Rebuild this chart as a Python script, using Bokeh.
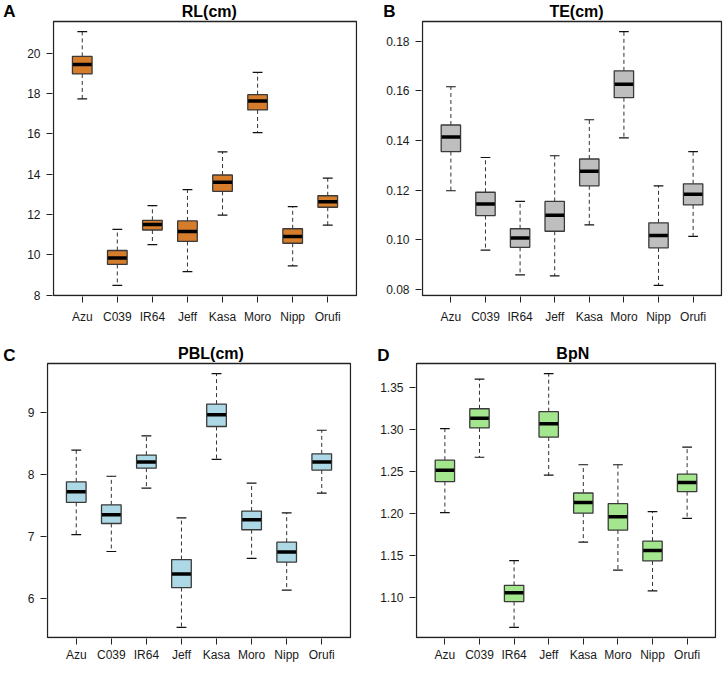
from bokeh.plotting import figure
from bokeh.layouts import row, column
from bokeh.models import FixedTicker, Range1d, LinearAxis
from bokeh.core.properties import value
from bokeh.embed import file_html
from bokeh.resources import INLINE

genotypes = ["Azu", "C039", "IR64", "Jeff", "Kasa", "Moro", "Nipp", "Orufi"]

# Panel A: RL(cm)
rl_lower = [17.74, 8.48, 10.50, 9.16, 11.97, 16.07, 9.45, 11.47]
rl_q1 = [18.98, 9.52, 11.23, 10.66, 13.15, 17.19, 10.57, 12.36]
rl_med = [19.45, 9.84, 11.50, 11.15, 13.60, 17.63, 10.91, 12.63]
rl_q3 = [19.85, 10.21, 11.71, 11.68, 13.96, 17.95, 11.29, 12.93]
rl_upper = [21.08, 11.26, 12.44, 13.23, 15.11, 19.06, 12.39, 13.81]
rl_ticks = [8, 10, 12, 14, 16, 18, 20]
rl_tick_labels = ["8", "10", "12", "14", "16", "18", "20"]

# Panel B: TE(cm)
te_lower = [0.1198, 0.0959, 0.0859, 0.0855, 0.1061, 0.1411, 0.0817, 0.1014]
te_q1 = [0.1356, 0.1098, 0.0970, 0.1035, 0.1218, 0.1573, 0.0968, 0.1141]
te_med = [0.1415, 0.1145, 0.1008, 0.1099, 0.1277, 0.1627, 0.1018, 0.1184]
te_q3 = [0.1463, 0.1192, 0.1045, 0.1155, 0.1326, 0.1681, 0.1069, 0.1226]
te_upper = [0.1617, 0.1332, 0.1155, 0.1339, 0.1484, 0.1839, 0.1218, 0.1356]
te_ticks = [0.08, 0.10, 0.12, 0.14, 0.16, 0.18]
te_tick_labels = ["0.08", "0.10", "0.12", "0.14", "0.16", "0.18"]

# Panel C: PBL(cm)
pbl_lower = [7.03, 6.76, 7.78, 5.54, 8.24, 6.65, 6.14, 7.70]
pbl_q1 = [7.55, 7.21, 8.10, 6.18, 8.77, 7.11, 6.59, 8.07]
pbl_med = [7.72, 7.35, 8.20, 6.40, 8.96, 7.27, 6.75, 8.20]
pbl_q3 = [7.88, 7.51, 8.31, 6.63, 9.13, 7.41, 6.91, 8.33]
pbl_upper = [8.39, 7.97, 8.62, 7.30, 9.62, 7.86, 7.38, 8.71]
pbl_ticks = [6, 7, 8, 9]
pbl_tick_labels = ["6", "7", "8", "9"]

# Panel D: BpN
bpn_lower = [1.2012, 1.2669, 1.0648, 1.2457, 1.1661, 1.1328, 1.1081, 1.1943]
bpn_q1 = [1.2380, 1.3017, 1.0954, 1.2909, 1.2005, 1.1804, 1.1437, 1.2260]
bpn_med = [1.2515, 1.3133, 1.1058, 1.3067, 1.2132, 1.1962, 1.1560, 1.2368]
bpn_q3 = [1.2634, 1.3245, 1.1147, 1.3210, 1.2244, 1.2117, 1.1672, 1.2468]
bpn_upper = [1.3010, 1.3597, 1.1440, 1.3662, 1.2580, 1.2580, 1.2024, 1.2789]
bpn_ticks = [1.10, 1.15, 1.20, 1.25, 1.30, 1.35]
bpn_tick_labels = ["1.10", "1.15", "1.20", "1.25", "1.30", "1.35"]

FONT = "Liberation Sans"
BOX_W = 0.56
CAP_W = 0.28


def make_panel(title, letter, lower, q1, med, q3, upper, fill, ticks, tick_labels,
               box_w, box_h, top_px, b_left, b_right, b_bottom, x_standoff,
               title_dx, title_up, letter_up, letter_standoff):
    n = len(genotypes)
    xs = [i + 1 for i in range(n)]
    lo, hi = min(lower), max(upper)
    pad = 0.04 * (hi - lo)
    bx0, bx1 = 0.5 - 0.04 * n, n + 0.5 + 0.04 * n
    by0, by1 = lo - pad, hi + pad
    sx = (bx1 - bx0) / box_w
    sy = (by1 - by0) / box_h
    p = figure(frame_width=box_w + 2, frame_height=box_h + top_px + 1,
               x_range=Range1d(bx0 - sx, bx1 + sx),
               y_range=Range1d(by0 - sy, by1 + top_px * sy),
               output_backend="svg", toolbar_location=None,
               min_border_left=b_left, min_border_right=b_right,
               min_border_top=0, min_border_bottom=b_bottom,
               background_fill_color="white", border_fill_color="white")
    p.grid.visible = False
    p.outline_line_color = None

    # plot box
    p.quad(left=[bx0], right=[bx1], bottom=[by0], top=[by1], fill_color=None,
           line_color="#222222", line_width=1.3)

    # whiskers (dashed)
    p.segment(x0=xs, y0=q3, x1=xs, y1=upper, line_color="#333333",
              line_width=1, line_dash="4 3")
    p.segment(x0=xs, y0=q1, x1=xs, y1=lower, line_color="#333333",
              line_width=1, line_dash="4 3")
    # caps
    p.segment(x0=[x - CAP_W / 2 for x in xs], y0=upper,
              x1=[x + CAP_W / 2 for x in xs], y1=upper,
              line_color="#111111", line_width=1.2)
    p.segment(x0=[x - CAP_W / 2 for x in xs], y0=lower,
              x1=[x + CAP_W / 2 for x in xs], y1=lower,
              line_color="#111111", line_width=1.2)
    # boxes
    p.vbar(x=xs, width=BOX_W, bottom=q1, top=q3, fill_color=fill,
           line_color="#3a3a3a", line_width=1.3)
    # medians
    p.segment(x0=[x - BOX_W / 2 + 0.01 for x in xs], y0=med,
              x1=[x + BOX_W / 2 - 0.01 for x in xs], y1=med,
              line_color="black", line_width=3.5)

    # title
    p.text(x=[(bx0 + bx1) / 2 + title_dx * sx], y=[by1 + title_up * sy], text=[title],
           text_font=value(FONT), text_font_style="bold", text_font_size="16px",
           text_align="center", text_baseline="middle", text_color="black")

    for ax in (p.xaxis, p.yaxis):
        ax.axis_line_color = None
        ax.major_tick_out = 6
        ax.major_tick_in = 0
        ax.minor_tick_line_color = None
        ax.major_tick_line_color = "#222222"
        ax.major_label_text_font = FONT
        ax.major_label_text_font_size = "12px"
        ax.major_label_text_color = "#1a1a1a"

    p.xaxis.ticker = FixedTicker(ticks=xs)
    p.xaxis.major_label_overrides = {x: g for x, g in zip(xs, genotypes)}
    p.xaxis.major_label_standoff = x_standoff
    p.yaxis.ticker = FixedTicker(ticks=ticks)
    p.yaxis.major_label_overrides = {t: s for t, s in zip(ticks, tick_labels)}
    p.yaxis.major_label_standoff = 6

    # panel letter as an outer left axis label
    y_letter = round(by1 + letter_up * sy, 6)
    lax = LinearAxis(ticker=FixedTicker(ticks=[y_letter]),
                     major_label_overrides={y_letter: letter},
                     axis_line_color=None, major_tick_line_color=None,
                     minor_tick_line_color=None, major_tick_out=0, major_tick_in=0,
                     major_label_standoff=letter_standoff,
                     major_label_text_font=FONT, major_label_text_font_style="bold",
                     major_label_text_font_size="17px",
                     major_label_text_color="black")
    p.add_layout(lax, "left")
    return p


BOX_H = 274
pA = make_panel("RL(cm)", "A", rl_lower, rl_q1, rl_med, rl_q3, rl_upper, "#D67D2C",
                rl_ticks, rl_tick_labels, 303, BOX_H, 21, 45, 12, 43, 7,
                4.3, 10, 10, 9)
pB = make_panel("TE(cm)", "B", te_lower, te_q1, te_med, te_q3, te_upper, "#BEBEBE",
                te_ticks, te_tick_labels, 299, BOX_H, 21, 52, 1, 43, 7,
                4.5, 10, 10, -12)
pC = make_panel("PBL(cm)", "C", pbl_lower, pbl_q1, pbl_med, pbl_q3, pbl_upper, "#ADD8E6",
                pbl_ticks, pbl_tick_labels, 303, BOX_H, 24, 45, 12, 24, 3,
                12, 10, 8, 9)
pD = make_panel("BpN", "D", bpn_lower, bpn_q1, bpn_med, bpn_q3, bpn_upper, "#A4E68E",
                bpn_ticks, bpn_tick_labels, 299, BOX_H, 24, 52, 1, 24, 3,
                6.8, 10, 8, -12)

layout = column(row(pA, pB), row(pC, pD))
open("out.html", "w").write(file_html(layout, INLINE))
